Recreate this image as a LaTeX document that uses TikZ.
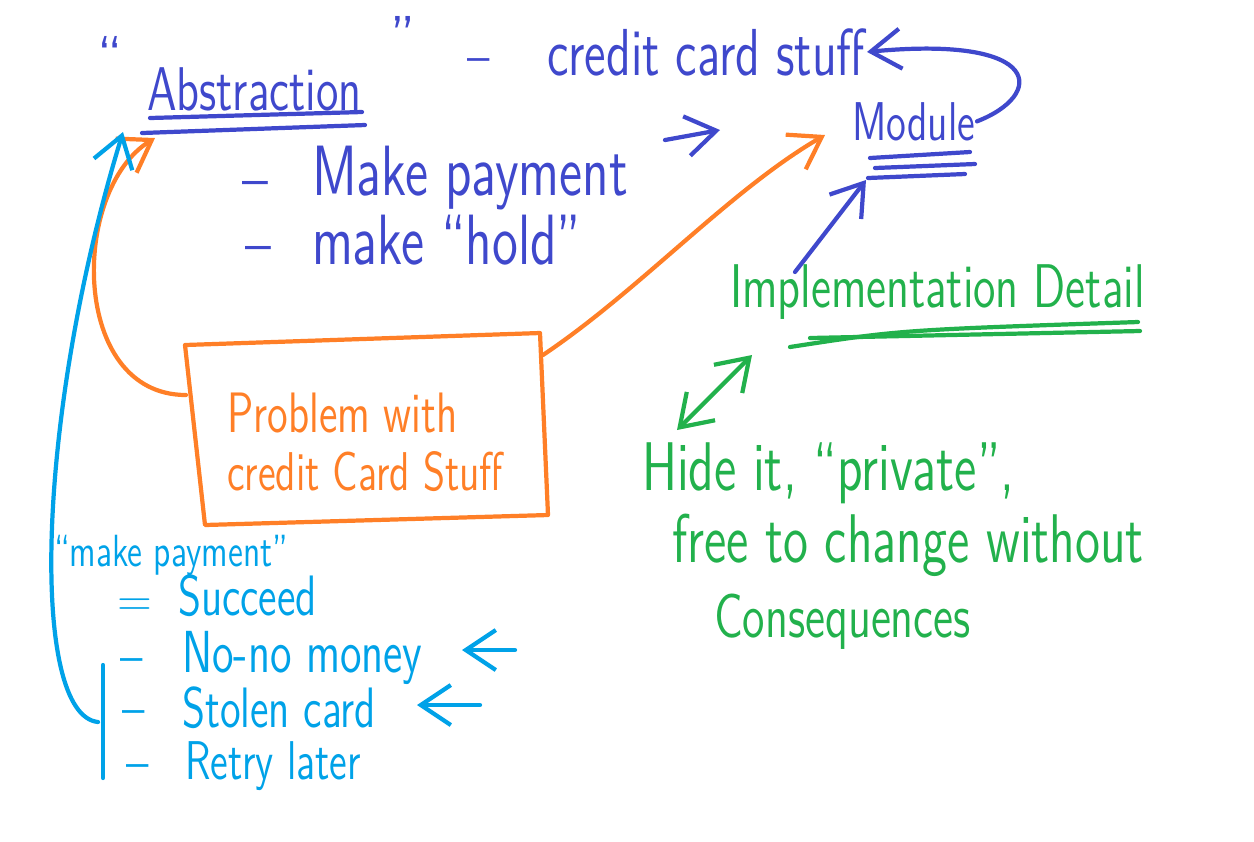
\documentclass[tikz,border=0pt]{standalone}
\usetikzlibrary{arrows.meta}
\definecolor{penblue}{RGB}{63,72,204}
\definecolor{penorange}{RGB}{255,127,39}
\definecolor{pengreen}{RGB}{34,177,76}
\definecolor{pencyan}{RGB}{0,162,232}
\newcommand\stretchy[1]{\scalebox{1}[1.35]{#1}}
\newcommand\pensize[1]{\fontsize{#1}{#1}\selectfont}

\begin{document}
\begin{tikzpicture}[x=0.01cm, y=-0.01cm, >={Straight Barb[length=3mm, width=4mm]},
    line width=1.2pt, line cap=round, line join=round,
    script/.style={inner sep=0pt, anchor=base west, font=\sffamily}]
  \useasboundingbox (0,0) rectangle (1254,841);
  % abstraction side (blue)
  \node[script, text=penblue, font=\sffamily\pensize{16}] (absqL) at (95,75) {``};
  \node[script, text=penblue, font=\sffamily\pensize{13}] (abs) at (145,110) {\stretchy{Abstraction}};
  \node[script, text=penblue, font=\sffamily\pensize{16}] (absqR) at (388,55) {''};
  \node[script, text=penblue, font=\sffamily\pensize{13}] (dashA) at (465,72) {--};
  \node[script, text=penblue, font=\sffamily\pensize{14}] (ccs) at (545,75) {\stretchy{credit card stuff}};
  \node[script, text=penblue, font=\sffamily\pensize{11.5}] (mod) at (850,140) {\stretchy{Module}};
  \node[script, text=penblue, font=\sffamily\pensize{15}] (dashB) at (240,197) {--};
  \node[script, text=penblue, font=\sffamily\pensize{15}] (pay) at (310,195) {\stretchy{Make payment}};
  \node[script, text=penblue, font=\sffamily\pensize{15}] (dashC) at (243,262) {--};
  \node[script, text=penblue, font=\sffamily\pensize{15}] (hold) at (310,264) {\stretchy{make ``hold''}};
  \draw[penblue] (150,118) -- (362,112);
  \draw[penblue] (142,133) -- (365,125);
  \draw[penblue] (870,158) -- (970,152);
  \draw[penblue] (875,168) -- (975,164);
  \draw[penblue] (868,178) -- (965,174);
  \coordinate (payS) at (665,140);
  \coordinate (payE) at (720,130);
  \draw[penblue, ->] (payS) -- (payE);
  \draw[penblue, ->] (mod.east) .. controls (1045,95) and (1045,35) .. (ccs.east);
  \coordinate (implS) at (795,272);
  \coordinate (modLine) at (866,180);
  \draw[penblue, ->] (implS) -- (modLine);
  % problem box (orange)
  \draw[penorange] (185,345) -- (540,333) -- (548,515) -- (205,525) -- cycle;
  \node[script, text=penorange, font=\sffamily\pensize{12}] (prob1) at (225,432) {\stretchy{Problem with}};
  \node[script, text=penorange, font=\sffamily\pensize{11.5}] (prob2) at (225,490) {\stretchy{credit Card Stuff}};
  \coordinate (probL) at (186,395);
  \coordinate (probR) at (543,355);
  \coordinate (absTip) at (155,138);
  \coordinate (modTip) at (825,135);
  \draw[penorange, ->] (probL) .. controls (70,395) and (70,190) .. (absTip);
  \draw[penorange, ->] (probR) .. controls (640,290) and (730,190) .. (modTip);
  % implementation detail (green)
  \node[script, text=pengreen, font=\sffamily\pensize{13}] (impl) at (728,307) {\stretchy{Implementation Detail}};
  \node[script, text=pengreen, font=\sffamily\pensize{14.5}] (hide) at (640,490) {\stretchy{Hide it, ``private'',}};
  \node[script, text=pengreen, font=\sffamily\pensize{14.5}] (free) at (670,562) {\stretchy{free to change without}};
  \node[script, text=pengreen, font=\sffamily\pensize{13}] (cons) at (712,637) {\stretchy{Consequences}};
  \draw[pengreen] (790,347) .. controls (900,330) .. (1138,322);
  \draw[pengreen] (810,338) -- (1140,331);
  \coordinate (hideTip) at (677,430);
  \coordinate (implTip) at (752,355);
  \draw[pengreen, <->] (hideTip) -- (implTip);
  % outcomes (cyan)
  \node[script, text=pencyan, font=\sffamily\pensize{9.5}] (mp) at (52,566) {\stretchy{``make payment''}};
  \node[script, text=pencyan, font=\sffamily\pensize{13}] (eqS) at (115,615) {=};
  \node[script, text=pencyan, font=\sffamily\pensize{12}] (succ) at (176,615) {\stretchy{Succeed}};
  \node[script, text=pencyan, font=\sffamily\pensize{13}] (dN) at (118,672) {--};
  \node[script, text=pencyan, font=\sffamily\pensize{12.5}] (money) at (180,672) {\stretchy{No-no money}};
  \node[script, text=pencyan, font=\sffamily\pensize{13}] (dS) at (120,724) {--};
  \node[script, text=pencyan, font=\sffamily\pensize{12}] (stolen) at (180,727) {\stretchy{Stolen card}};
  \node[script, text=pencyan, font=\sffamily\pensize{13}] (dR) at (124,778) {--};
  \node[script, text=pencyan, font=\sffamily\pensize{11.5}] (retry) at (183,779) {\stretchy{Retry later}};
  \coordinate (barT) at (103,665);
  \coordinate (barB) at (103,778);
  \draw[pencyan] (barT) -- (barB);
  \coordinate (barM) at (98,722);
  \coordinate (absTip2) at (123,132);
  \draw[pencyan, ->] (barM) .. controls (30,715) and (35,420) .. (absTip2);
  \coordinate (moneyS) at (515,650);
  \coordinate (moneyE) at (462,650);
  \draw[pencyan, ->] (moneyS) -- (moneyE);
  \coordinate (stolenS) at (480,705);
  \coordinate (stolenE) at (417,705);
  \draw[pencyan, ->] (stolenS) -- (stolenE);
\end{tikzpicture}
\end{document}
